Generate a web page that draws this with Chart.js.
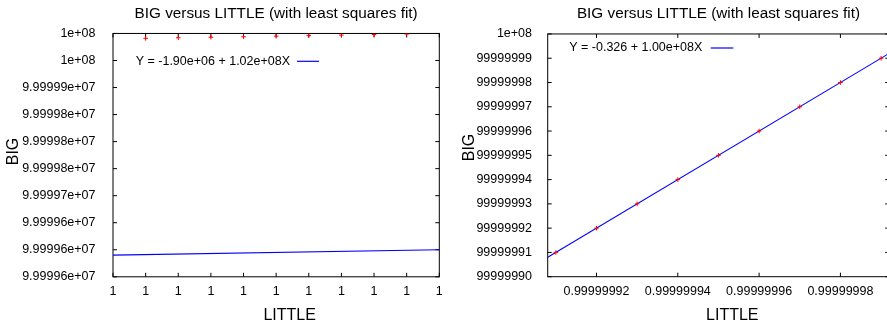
<!DOCTYPE html>
<html><head><meta charset="utf-8">
<script src="https://cdn.jsdelivr.net/npm/chart.js@4"></script>
<style>
html,body{margin:0;padding:0;background:#fff;}
#wrap{position:relative;width:887px;height:326px;overflow:hidden;background:#fff;}
canvas{position:absolute;top:0;}
#c1{left:0}
#c2{left:443px}
</style></head><body>
<div id="wrap"><canvas id="c1" width="450" height="326"></canvas><canvas id="c2" width="457" height="326"></canvas></div>
<script>
// ---- data ----
const TITLE = 'BIG versus LITTLE (with least squares fit)';
const X_TITLE = 'LITTLE';
const Y_TITLE = 'BIG';
const LITTLE = [0.99999991, 0.99999992, 0.99999993, 0.99999994, 0.99999995, 0.99999996, 0.99999997, 0.99999998, 0.99999999];
const BIG = [99999991, 99999992, 99999993, 99999994, 99999995, 99999996, 99999997, 99999998, 99999999];
const FIT1_LABEL = 'Y = -1.90e+06 + 1.02e+08X';
const FIT1_X = [0.9999999, 1.0];
const FIT1_Y = [99999590, 99999600];
const FIT2_LABEL = 'Y = -0.326 + 1.00e+08X';
const FIT2_X = [0.999999908, 0.999999992];
const FIT2_Y = [99999990.8, 99999999.2];
const X1_TICKS = [0.9999999, 0.99999991, 0.99999992, 0.99999993, 0.99999994, 0.99999995, 0.99999996, 0.99999997, 0.99999998, 0.99999999, 1.0];
const X1_LABELS = ['1','1','1','1','1','1','1','1','1','1','1'];
const Y1_TICKS = [99999550, 99999600, 99999650, 99999700, 99999750, 99999800, 99999850, 99999900, 99999950, 100000000];
const Y1_LABELS = ['9.99996e+07','9.99996e+07','9.99996e+07','9.99997e+07','9.99998e+07','9.99998e+07','9.99998e+07','9.99999e+07','1e+08','1e+08'];
const X2_TICKS = [0.99999992, 0.99999994, 0.99999996, 0.99999998];
const X2_LABELS = ['0.99999992','0.99999994','0.99999996','0.99999998'];
const Y2_TICKS = [99999990, 99999991, 99999992, 99999993, 99999994, 99999995, 99999996, 99999997, 99999998, 99999999, 100000000];
const Y2_LABELS = ['99999990','99999991','99999992','99999993','99999994','99999995','99999996','99999997','99999998','99999999','1e+08'];

const FONT = "'Liberation Sans', Arial, Helvetica, sans-serif";

const gnuFrame = {
  id: 'gnuFrame',
  beforeDatasetsDraw(chart, args, o) {
    const {ctx, chartArea: a, scales: {x, y}} = chart;
    ctx.save();
    ctx.strokeStyle = '#000';
    ctx.lineWidth = 1;
    ctx.strokeRect(a.left, a.top, a.right - a.left, a.bottom - a.top);
    const L = o.tickLen;
    ctx.beginPath();
    x.ticks.forEach(t => {
      const p = x.getPixelForValue(t.value);
      ctx.moveTo(p, a.bottom); ctx.lineTo(p, a.bottom - L);
      ctx.moveTo(p, a.top); ctx.lineTo(p, a.top + L);
    });
    y.ticks.forEach(t => {
      const p = y.getPixelForValue(t.value);
      ctx.moveTo(a.left, p); ctx.lineTo(a.left + L, p);
      ctx.moveTo(a.right, p); ctx.lineTo(a.right - L, p);
    });
    ctx.stroke();
    ctx.restore();
  },
  afterDraw(chart, args, o) {
    const ctx = chart.ctx;
    ctx.save();
    ctx.fillStyle = '#000';
    ctx.font = o.titleSize + 'px ' + FONT;
    ctx.textAlign = 'center';
    ctx.textBaseline = 'middle';
    ctx.fillText(X_TITLE, o.xTitle[0], o.xTitle[1]);
    ctx.save();
    ctx.translate(o.yTitle[0], o.yTitle[1]);
    ctx.rotate(-Math.PI / 2);
    ctx.fillText(Y_TITLE, 0, 0);
    ctx.restore();
    // key
    const ds = chart.data.datasets[1];
    ctx.font = o.keySize + 'px ' + FONT;
    ctx.textAlign = 'right';
    ctx.fillText(ds.label, o.key.textRight, o.key.y);
    ctx.strokeStyle = ds.borderColor;
    ctx.lineWidth = 1.2;
    ctx.beginPath();
    ctx.moveTo(o.key.s0, o.key.y); ctx.lineTo(o.key.s1, o.key.y);
    ctx.stroke();
    ctx.restore();
  }
};

function makeChart(id, cfg) {
  const tickFont = {family: FONT, size: 12.5};
  return new Chart(document.getElementById(id), {
    type: 'scatter',
    data: {
      datasets: [
        {label: 'data', data: LITTLE.map((v, i) => ({x: v, y: BIG[i]})), pointStyle: 'cross', pointRadius: 2.3, pointBorderWidth: 1, borderColor: '#ff0000', backgroundColor: '#ff0000', showLine: false},
        {label: cfg.fitLabel, data: cfg.fitX.map((v, i) => ({x: v, y: cfg.fitY[i]})), showLine: true, pointRadius: 0, borderColor: '#0000ff', borderWidth: 1.1, fill: false}
      ]
    },
    options: {
      responsive: false,
      animation: false,
      layout: {padding: {left: 0, right: cfg.padRight, top: 0, bottom: 0}},
      plugins: {
        legend: {display: false},
        tooltip: {enabled: false},
        title: {display: true, text: TITLE, fullSize: false, color: '#000', font: {family: FONT, size: 15.3, weight: 'normal'}, padding: {top: 4.8, bottom: cfg.titleBottom}},
        gnuFrame: {tickLen: 4, titleSize: 16, keySize: 12.5, xTitle: cfg.xTitle, yTitle: cfg.yTitle, key: cfg.key}
      },
      scales: {
        x: {
          type: 'linear', min: cfg.xMin, max: cfg.xMax, bounds: 'data',
          grid: {display: false}, border: {display: false},
          afterBuildTicks: s => { s.ticks = cfg.xTicks.map(v => ({value: v})); },
          afterFit: s => { s.height = cfg.xAxisH; },
          ticks: {color: '#000', font: tickFont, padding: -1, autoSkip: false, maxRotation: 0, callback: (v, i) => cfg.xLabels[i]}
        },
        y: {
          type: 'linear', min: cfg.yMin, max: cfg.yMax, bounds: 'data',
          grid: {display: false}, border: {display: false},
          afterBuildTicks: s => { s.ticks = cfg.yTicks.map(v => ({value: v})); },
          afterFit: s => { s.width = cfg.yAxisW; },
          ticks: {color: '#000', font: tickFont, padding: cfg.yPad, autoSkip: false, callback: (v, i) => cfg.yLabels[i]}
        }
      }
    },
    plugins: [gnuFrame]
  });
}

makeChart('c1', {
  fitLabel: FIT1_LABEL, fitX: FIT1_X, fitY: FIT1_Y,
  xMin: 0.9999999, xMax: 1.0, yMin: 99999550, yMax: 100000000,
  xTicks: X1_TICKS, xLabels: X1_LABELS, yTicks: Y1_TICKS, yLabels: Y1_LABELS,
  padRight: 10.7, titleBottom: 10.3, xAxisH: 49.2, yAxisW: 113, yPad: 9.5,
  xTitle: [289.7, 315.2], yTitle: [13.5, 151.5],
  key: {textRight: 290, y: 61.3, s0: 297, s1: 319}
});
makeChart('c2', {
  fitLabel: FIT2_LABEL, fitX: FIT2_X, fitY: FIT2_Y,
  xMin: 0.999999908, xMax: 0.999999992, yMin: 99999990, yMax: 100000000,
  xTicks: X2_TICKS, xLabels: X2_LABELS, yTicks: Y2_TICKS, yLabels: Y2_LABELS,
  padRight: 10.8, titleBottom: 10.8, xAxisH: 49.3, yAxisW: 104.7, yPad: 7.7,
  xTitle: [289.3, 315.5], yTitle: [27, 147.5],
  key: {textRight: 259.3, y: 48, s0: 267.7, s1: 290.3}
});
</script>
</body></html>
